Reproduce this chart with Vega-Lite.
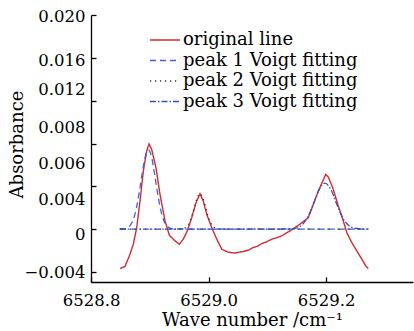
{
  "$schema": "https://vega.github.io/schema/vega-lite/v6.json",
  "width": 322,
  "height": 267,
  "autosize": {"type": "none"},
  "padding": {"left": 91, "top": 15, "right": 1, "bottom": 49},
  "background": "white",
  "config": {
    "view": {"stroke": null},
    "font": "DejaVu Serif",
    "axis": {
      "labelFont": "DejaVu Serif",
      "titleFont": "DejaVu Serif",
      "labelFontSize": 16.5,
      "titleFontSize": 18,
      "titleFontWeight": "normal",
      "labelColor": "black",
      "titleColor": "black",
      "domainColor": "black",
      "tickColor": "black",
      "domainWidth": 1.3,
      "tickWidth": 1.3,
      "labelFlush": false,
      "grid": false
    },
    "legend": {
      "labelFont": "DejaVu Serif",
      "labelFontSize": 18,
      "labelColor": "black",
      "labelLimit": 400
    }
  },
  "datasets": {
    "orig": [
      {"x": 6528.8494, "y": -0.00367, "series": "original line"},
      {"x": 6528.8579, "y": -0.00348, "series": "original line"},
      {"x": 6528.8664, "y": -0.00233, "series": "original line"},
      {"x": 6528.8720, "y": -0.0014, "series": "original line"},
      {"x": 6528.8778, "y": 0.00015, "series": "original line"},
      {"x": 6528.8834, "y": 0.00263, "series": "original line"},
      {"x": 6528.8890, "y": 0.0054, "series": "original line"},
      {"x": 6528.8948, "y": 0.0073, "series": "original line"},
      {"x": 6528.8987, "y": 0.00796, "series": "original line"},
      {"x": 6528.9033, "y": 0.00744, "series": "original line"},
      {"x": 6528.9106, "y": 0.00573, "series": "original line"},
      {"x": 6528.9174, "y": 0.00326, "series": "original line"},
      {"x": 6528.9260, "y": 0.00077, "series": "original line"},
      {"x": 6528.9333, "y": -0.00056, "series": "original line"},
      {"x": 6528.9430, "y": -0.00109, "series": "original line"},
      {"x": 6528.9503, "y": -0.0014, "series": "original line"},
      {"x": 6528.9571, "y": -0.00093, "series": "original line"},
      {"x": 6528.9639, "y": -0.00016, "series": "original line"},
      {"x": 6528.9714, "y": 0.00108, "series": "original line"},
      {"x": 6528.9787, "y": 0.00248, "series": "original line"},
      {"x": 6528.9855, "y": 0.00331, "series": "original line"},
      {"x": 6528.9911, "y": 0.00263, "series": "original line"},
      {"x": 6528.9969, "y": 0.0014, "series": "original line"},
      {"x": 6529.0054, "y": 0.00015, "series": "original line"},
      {"x": 6529.0140, "y": -0.00093, "series": "original line"},
      {"x": 6529.0225, "y": -0.00186, "series": "original line"},
      {"x": 6529.0310, "y": -0.00211, "series": "original line"},
      {"x": 6529.0380, "y": -0.00218, "series": "original line"},
      {"x": 6529.0451, "y": -0.00223, "series": "original line"},
      {"x": 6529.0520, "y": -0.00214, "series": "original line"},
      {"x": 6529.0592, "y": -0.00208, "series": "original line"},
      {"x": 6529.0680, "y": -0.00195, "series": "original line"},
      {"x": 6529.0763, "y": -0.00171, "series": "original line"},
      {"x": 6529.0830, "y": -0.00160, "series": "original line"},
      {"x": 6529.0906, "y": -0.00134, "series": "original line"},
      {"x": 6529.0990, "y": -0.00118, "series": "original line"},
      {"x": 6529.1076, "y": -0.00093, "series": "original line"},
      {"x": 6529.1160, "y": -0.00080, "series": "original line"},
      {"x": 6529.1246, "y": -0.00062, "series": "original line"},
      {"x": 6529.1387, "y": -0.00016, "series": "original line"},
      {"x": 6529.1557, "y": 0.00047, "series": "original line"},
      {"x": 6529.1699, "y": 0.00108, "series": "original line"},
      {"x": 6529.1784, "y": 0.00233, "series": "original line"},
      {"x": 6529.1869, "y": 0.00356, "series": "original line"},
      {"x": 6529.1944, "y": 0.00449, "series": "original line"},
      {"x": 6529.1995, "y": 0.00512, "series": "original line"},
      {"x": 6529.2039, "y": 0.00487, "series": "original line"},
      {"x": 6529.2114, "y": 0.00387, "series": "original line"},
      {"x": 6529.2209, "y": 0.00217, "series": "original line"},
      {"x": 6529.2294, "y": 0.00077, "series": "original line"},
      {"x": 6529.2352, "y": -0.00031, "series": "original line"},
      {"x": 6529.2437, "y": -0.00124, "series": "original line"},
      {"x": 6529.2523, "y": -0.00202, "series": "original line"},
      {"x": 6529.2608, "y": -0.00279, "series": "original line"},
      {"x": 6529.2681, "y": -0.00348, "series": "original line"},
      {"x": 6529.2720, "y": -0.00367, "series": "original line"}
    ],
    "fits": [
      {"x": 6528.849, "y": 0.00002, "series": "peak 1 Voigt fitting"},
      {"x": 6528.8576, "y": 0.00004, "series": "peak 1 Voigt fitting"},
      {"x": 6528.8626, "y": 0.00015, "series": "peak 1 Voigt fitting"},
      {"x": 6528.8676, "y": 0.00042, "series": "peak 1 Voigt fitting"},
      {"x": 6528.8726, "y": 0.001, "series": "peak 1 Voigt fitting"},
      {"x": 6528.8776, "y": 0.00206, "series": "peak 1 Voigt fitting"},
      {"x": 6528.8826, "y": 0.0036, "series": "peak 1 Voigt fitting"},
      {"x": 6528.8876, "y": 0.00537, "series": "peak 1 Voigt fitting"},
      {"x": 6528.8926, "y": 0.00683, "series": "peak 1 Voigt fitting"},
      {"x": 6528.8976, "y": 0.0074, "series": "peak 1 Voigt fitting"},
      {"x": 6528.9026, "y": 0.00683, "series": "peak 1 Voigt fitting"},
      {"x": 6528.9076, "y": 0.00537, "series": "peak 1 Voigt fitting"},
      {"x": 6528.9126, "y": 0.0036, "series": "peak 1 Voigt fitting"},
      {"x": 6528.9176, "y": 0.00206, "series": "peak 1 Voigt fitting"},
      {"x": 6528.9226, "y": 0.001, "series": "peak 1 Voigt fitting"},
      {"x": 6528.9276, "y": 0.00042, "series": "peak 1 Voigt fitting"},
      {"x": 6528.9326, "y": 0.00015, "series": "peak 1 Voigt fitting"},
      {"x": 6528.9376, "y": 0.00004, "series": "peak 1 Voigt fitting"},
      {"x": 6529.0, "y": 0.00001, "series": "peak 1 Voigt fitting"},
      {"x": 6529.272, "y": 0, "series": "peak 1 Voigt fitting"},
      {"x": 6528.849, "y": 0, "series": "peak 2 Voigt fitting"},
      {"x": 6528.94, "y": 0.00001, "series": "peak 2 Voigt fitting"},
      {"x": 6528.9555, "y": 0.00003, "series": "peak 2 Voigt fitting"},
      {"x": 6528.9605, "y": 0.00013, "series": "peak 2 Voigt fitting"},
      {"x": 6528.9655, "y": 0.00041, "series": "peak 2 Voigt fitting"},
      {"x": 6528.9705, "y": 0.00102, "series": "peak 2 Voigt fitting"},
      {"x": 6528.9755, "y": 0.00196, "series": "peak 2 Voigt fitting"},
      {"x": 6528.9805, "y": 0.0029, "series": "peak 2 Voigt fitting"},
      {"x": 6528.9855, "y": 0.0033, "series": "peak 2 Voigt fitting"},
      {"x": 6528.9905, "y": 0.0029, "series": "peak 2 Voigt fitting"},
      {"x": 6528.9955, "y": 0.00196, "series": "peak 2 Voigt fitting"},
      {"x": 6529.0005, "y": 0.00102, "series": "peak 2 Voigt fitting"},
      {"x": 6529.0055, "y": 0.00041, "series": "peak 2 Voigt fitting"},
      {"x": 6529.0105, "y": 0.00013, "series": "peak 2 Voigt fitting"},
      {"x": 6529.0155, "y": 0.00003, "series": "peak 2 Voigt fitting"},
      {"x": 6529.05, "y": 0.00001, "series": "peak 2 Voigt fitting"},
      {"x": 6529.272, "y": 0, "series": "peak 2 Voigt fitting"},
      {"x": 6528.849, "y": 0, "series": "peak 3 Voigt fitting"},
      {"x": 6529.10, "y": 0.00001, "series": "peak 3 Voigt fitting"},
      {"x": 6529.1383, "y": 0.00003, "series": "peak 3 Voigt fitting"},
      {"x": 6529.1483, "y": 0.00009, "series": "peak 3 Voigt fitting"},
      {"x": 6529.1583, "y": 0.00036, "series": "peak 3 Voigt fitting"},
      {"x": 6529.1683, "y": 0.00107, "series": "peak 3 Voigt fitting"},
      {"x": 6529.1783, "y": 0.00232, "series": "peak 3 Voigt fitting"},
      {"x": 6529.1883, "y": 0.00369, "series": "peak 3 Voigt fitting"},
      {"x": 6529.1983, "y": 0.0043, "series": "peak 3 Voigt fitting"},
      {"x": 6529.2083, "y": 0.00369, "series": "peak 3 Voigt fitting"},
      {"x": 6529.2183, "y": 0.00232, "series": "peak 3 Voigt fitting"},
      {"x": 6529.2283, "y": 0.00107, "series": "peak 3 Voigt fitting"},
      {"x": 6529.2383, "y": 0.00036, "series": "peak 3 Voigt fitting"},
      {"x": 6529.2483, "y": 0.00009, "series": "peak 3 Voigt fitting"},
      {"x": 6529.2583, "y": 0.00003, "series": "peak 3 Voigt fitting"},
      {"x": 6529.272, "y": 0.00001, "series": "peak 3 Voigt fitting"}
    ]
  },
  "layer": [
    {
      "data": {"name": "orig"},
      "mark": {"type": "line", "strokeWidth": 1.4},
      "encoding": {
        "x": {
          "field": "x", "type": "quantitative",
          "scale": {"domain": [6528.8, 6529.348], "nice": false, "zero": false},
          "axis": {"values": [6528.8, 6529.0, 6529.2], "format": ".1f", "tickSize": -5, "labelPadding": 15, "title": "Wave number /cm⁻¹", "titlePadding": 3}
        },
        "y": {
          "field": "y", "type": "quantitative",
          "scale": {"domain": [-0.00493, 0.020], "nice": false, "zero": false},
          "axis": {
            "orient": "left",
            "values": [0.0199, 0.01578, 0.01306, 0.00951, 0.00615, 0.00279, -0.00049, -0.00404],
            "ticks": false, "domain": false, "labelPadding": 6,
            "labelExpr": "datum.value > 0.018 ? '0.020' : datum.value > 0.014 ? '0.016' : datum.value > 0.011 ? '0.012' : datum.value > 0.008 ? '0.008' : datum.value > 0.005 ? '0.006' : datum.value > 0.002 ? '0.004' : datum.value > -0.002 ? '0' : '−0.004'",
            "title": "Absorbance", "titlePadding": -3, "titleY": 129
          }
        },
        "color": {
          "field": "series", "type": "nominal",
          "scale": {"domain": ["original line", "peak 1 Voigt fitting", "peak 2 Voigt fitting", "peak 3 Voigt fitting"], "range": ["#d42a2f", "#3b63d8", "#333333", "#3a4fb8"]},
          "legend": {"title": null, "orient": "none", "legendX": 58, "legendY": 15, "symbolType": "stroke", "symbolSize": 900, "symbolStrokeWidth": 1.5, "clipHeight": 20, "rowPadding": 0.5, "labelOffset": 2, "padding": 0}
        },
        "strokeDash": {
          "field": "series", "type": "nominal",
          "scale": {"domain": ["original line", "peak 1 Voigt fitting", "peak 2 Voigt fitting", "peak 3 Voigt fitting"], "range": [[1, 0], [6, 4], [1.2, 3.8], [6, 2, 1.5, 2]]},
          "legend": {"title": null, "orient": "none", "legendX": 58, "legendY": 15, "symbolType": "stroke", "symbolSize": 900, "symbolStrokeWidth": 1.5, "clipHeight": 20, "rowPadding": 0.5, "labelOffset": 2, "padding": 0}
        }
      }
    },
    {
      "data": {"name": "fits"},
      "mark": {"type": "line", "strokeWidth": 1.3, "interpolate": "monotone"},
      "encoding": {
        "x": {
          "field": "x", "type": "quantitative",
          "scale": {"domain": [6528.8, 6529.348], "nice": false, "zero": false},
          "axis": {"values": [6528.8, 6529.0, 6529.2], "format": ".1f", "tickSize": -5, "labelPadding": 15, "title": "Wave number /cm⁻¹", "titlePadding": 3}
        },
        "y": {
          "field": "y", "type": "quantitative",
          "scale": {"domain": [-0.00493, 0.020], "nice": false, "zero": false},
          "axis": {
            "orient": "left",
            "values": [-0.004, 0, 0.004, 0.008, 0.012, 0.016, 0.020],
            "tickSize": -5, "labels": false, "title": null, "domain": true
          }
        },
        "color": {
          "field": "series", "type": "nominal",
          "scale": {"domain": ["original line", "peak 1 Voigt fitting", "peak 2 Voigt fitting", "peak 3 Voigt fitting"], "range": ["#d42a2f", "#3b63d8", "#333333", "#3a4fb8"]},
          "legend": {"title": null, "orient": "none", "legendX": 58, "legendY": 15, "symbolType": "stroke", "symbolSize": 900, "symbolStrokeWidth": 1.5, "clipHeight": 20, "rowPadding": 0.5, "labelOffset": 2, "padding": 0}
        },
        "strokeDash": {
          "field": "series", "type": "nominal",
          "scale": {"domain": ["original line", "peak 1 Voigt fitting", "peak 2 Voigt fitting", "peak 3 Voigt fitting"], "range": [[1, 0], [6, 4], [1.2, 3.8], [6, 2, 1.5, 2]]},
          "legend": {"title": null, "orient": "none", "legendX": 58, "legendY": 15, "symbolType": "stroke", "symbolSize": 900, "symbolStrokeWidth": 1.5, "clipHeight": 20, "rowPadding": 0.5, "labelOffset": 2, "padding": 0}
        }
      }
    }
  ],
  "resolve": {"axis": {"y": "independent"}}
}
